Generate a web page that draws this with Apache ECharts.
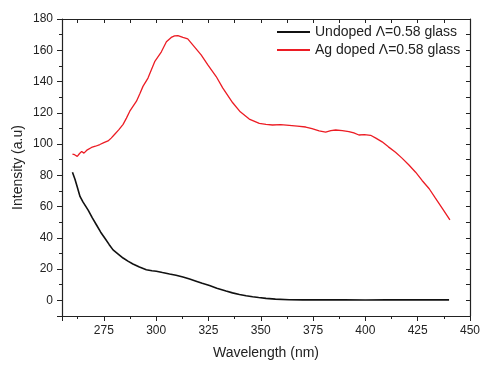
<!DOCTYPE html>
<html>
<head>
<meta charset="utf-8">
<script src="https://cdn.jsdelivr.net/npm/echarts@6/dist/echarts.min.js"></script>
<style>
  html, body { margin: 0; padding: 0; background: #fff; }
  #chart { width: 483px; height: 365px; }
</style>
</head>
<body>
<div id="chart"></div>
<script>
// 未掺杂玻璃
const undopedX = [260, 261.2, 262.3, 263.6, 265, 267.5, 269.5, 271.5, 273.5, 275.5, 277.5, 279.4, 282, 284.2, 286.5, 288.9, 292, 295.3, 298, 300.1, 303, 306.4, 309.5, 312.8, 316, 319.1, 322, 325.5, 329, 333.4, 336.5, 339.8, 343, 346.1, 349, 352.5, 357, 363.6, 370, 380, 390, 400, 410, 420, 430, 440];
const undopedY = [82, 77.5, 72.5, 66.5, 63, 57.7, 52.8, 48.2, 43.6, 39.7, 35.8, 32.3, 29.5, 27.1, 25.1, 23.3, 21.3, 19.6, 18.9, 18.6, 17.8, 16.9, 16.1, 15, 13.7, 12.3, 10.9, 9.5, 7.8, 6, 4.8, 3.8, 3, 2.3, 1.8, 1.3, 0.8, 0.4, 0.3, 0.3, 0.3, 0.2, 0.3, 0.3, 0.3, 0.3];

// 掺银玻璃
const agX = [260, 261, 262.3, 263.3, 264.4, 265.5, 267.1, 268, 269.1, 271, 273.1, 275, 277, 278.5, 280.2, 282.2, 284.2, 285.8, 287.4, 289, 290.6, 292.2, 293.7, 296.1, 299.3, 302.5, 304.9, 307.2, 308.8, 310.4, 312.8, 315.1, 318.3, 321.5, 324.7, 328.7, 331.8, 336.6, 340.2, 344.5, 349.3, 352.5, 355.6, 359.5, 363.6, 367.5, 371.5, 374.5, 377.9, 381, 383.5, 385.8, 389, 392.1, 394.5, 396.9, 399.5, 402.5, 405, 408, 411, 414.4, 417.5, 420.7, 424, 427.1, 430.5, 433.4, 437, 440.4];
const agY = [93.6, 93.2, 92.1, 93.8, 95.3, 94.2, 96.3, 95.6, 97.8, 98.6, 99.7, 100.9, 102, 103.8, 106.3, 109.2, 112.6, 116.6, 121, 124.2, 127.4, 132.2, 136.9, 142.2, 152.7, 159, 165.4, 168.2, 169.2, 169.4, 168.2, 167.3, 162.2, 157, 150.6, 143.2, 135.9, 126.4, 120.6, 116, 113.2, 112.6, 112.2, 112.4, 112, 111.5, 110.9, 109.9, 108.4, 107.7, 108.6, 109, 108.6, 108, 107.1, 105.8, 106, 105.6, 103.8, 101.4, 98.2, 94.7, 91, 86.8, 82, 76.7, 71.4, 65.5, 58.4, 51.5];

const xTicks = { min: 255, max: 450, step: 25 };
const yTicks = { min: -10, max: 180, step: 20 };

const chart = echarts.init(document.getElementById('chart'));

const font = 'Liberation Sans, Arial, sans-serif';
const axisColor = '#222';

const makeX = (main) => ({
  type: 'value',
  position: main ? 'bottom' : 'top',
  min: xTicks.min,
  max: xTicks.max,
  minInterval: xTicks.step,
  maxInterval: xTicks.step,
  name: main ? 'Wavelength (nm)' : '',
  nameLocation: 'middle',
  nameGap: 30,
  nameTextStyle: { fontFamily: font, fontSize: 14, color: '#222' },
  axisLine: { show: true, onZero: false, lineStyle: { color: axisColor, width: 1.2 } },
  axisTick: { show: true, inside: !main, length: main ? 5 : 4, lineStyle: { color: axisColor } },
  minorTick: { show: true, splitNumber: 2, length: main ? 3 : 4, lineStyle: { color: axisColor } },
  splitLine: { show: false },
  minorSplitLine: { show: false },
  axisLabel: {
    show: main,
    margin: 9,
    fontFamily: font,
    fontSize: 12,
    color: '#222',
    formatter: (v) => (v % xTicks.step === 0 ? String(v) : '')
  }
});

const makeY = (main) => ({
  type: 'value',
  position: main ? 'left' : 'right',
  min: yTicks.min,
  max: yTicks.max,
  minInterval: yTicks.step,
  maxInterval: yTicks.step,
  name: main ? 'Intensity (a.u)' : '',
  nameLocation: 'middle',
  nameGap: 37,
  nameMoveOverlap: false,
  nameTextStyle: { fontFamily: font, fontSize: 14, color: '#222' },
  axisLine: { show: true, onZero: false, lineStyle: { color: axisColor, width: 1.2 } },
  axisTick: { show: true, inside: !main, length: main ? 5 : 4, lineStyle: { color: axisColor } },
  minorTick: { show: true, splitNumber: 2, length: main ? 3 : 4, lineStyle: { color: axisColor } },
  splitLine: { show: false },
  minorSplitLine: { show: false },
  axisLabel: {
    show: main,
    margin: 9,
    fontFamily: font,
    fontSize: 12,
    color: '#222',
    formatter: (v) => (v % yTicks.step === 0 ? String(v) : '')
  }
});

const option = {
  animation: false,
  backgroundColor: '#fff',
  grid: { left: 62, right: 11, top: 19, bottom: 47 },
  legend: {
    orient: 'vertical',
    left: 272,
    top: 18,
    icon: 'rect',
    itemWidth: 33,
    itemHeight: 2,
    itemGap: 0,
    textStyle: { fontFamily: font, fontSize: 14, lineHeight: 18, color: '#222' },
    data: ['Undoped Λ=0.58 glass', 'Ag doped Λ=0.58 glass']
  },
  xAxis: [makeX(true), makeX(false)],
  yAxis: [makeY(true), makeY(false)],
  series: [
    {
      name: 'Undoped Λ=0.58 glass',
      type: 'line',
      symbol: 'none',
      smooth: false,
      lineStyle: { color: '#111', width: 1.6 },
      itemStyle: { color: '#111' },
      data: undopedX.map((x, i) => [x, undopedY[i]])
    },
    {
      name: 'Ag doped Λ=0.58 glass',
      type: 'line',
      symbol: 'none',
      smooth: false,
      lineStyle: { color: '#ec1c24', width: 1.3 },
      itemStyle: { color: '#ec1c24' },
      data: agX.map((x, i) => [x, agY[i]])
    }
  ]
};

chart.setOption(option);
</script>
</body>
</html>
